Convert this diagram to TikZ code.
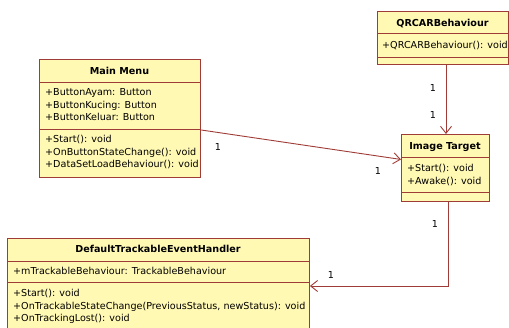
\documentclass[tikz,border=0pt]{standalone}
\usepackage{fontspec}
\setmainfont{DejaVu Sans}
\usetikzlibrary{arrows.meta}
\definecolor{umlfill}{RGB}{255,249,180}
\definecolor{umlline}{RGB}{160,60,55}
\begin{document}
\begin{tikzpicture}[x=1pt,y=-1pt,
  umlbox/.style={draw=umlline, fill=umlfill, line width=0.9pt, inner sep=0pt, anchor=north west},
  sep/.style={draw=umlline, line width=0.9pt},
  member/.style={anchor=base west, inner sep=0pt, font=\fontsize{9.6}{11}\selectfont},
  title/.style={anchor=base, inner sep=0pt, font=\fontsize{9.6}{11}\selectfont\bfseries},
  mult/.style={inner sep=0pt, font=\fontsize{9.6}{11}\selectfont},
  conn/.style={draw=umlline, line width=0.9pt, -{Straight Barb[length=7pt,width=11pt]}}]
\useasboundingbox (0,0) rectangle (509,327);
\clip (0,0) rectangle (509,327);
\fill[white] (0,0) rectangle (509,327);

% Main Menu
\node[umlbox, minimum width=161pt, minimum height=118pt] (mm) at (39,59) {};
\draw[sep] (39,82) -- (200,82);
\draw[sep] (39,129.5) -- (200,129.5);
\node[title] (mmt) at (119.5,74.5) {Main Menu};
\node[member] (mm1) at (45,95.5) {+ButtonAyam: Button};
\node[member] (mm2) at (45,108) {+ButtonKucing: Button};
\node[member] (mm3) at (45,120.5) {+ButtonKeluar: Button};
\node[member] (mm4) at (45,142.5) {+Start(): void};
\node[member] (mm5) at (45,155) {+OnButtonStateChange(): void};
\node[member] (mm6) at (45,167.5) {+DataSetLoadBehaviour(): void};

% QRCARBehaviour
\node[umlbox, minimum width=131pt, minimum height=53pt] (qr) at (377,11) {};
\draw[sep] (377,33) -- (508,33);
\draw[sep] (377,57) -- (508,57);
\node[title] (qrt) at (442.5,26.5) {QRCARBehaviour};
\node[member] (qr1) at (382,48.5) {+QRCARBehaviour(): void};

% Image Target
\node[umlbox, minimum width=88pt, minimum height=67pt] (it) at (401,134) {};
\draw[sep] (401,157) -- (489,157);
\draw[sep] (401,192) -- (489,192);
\node[title] (itt) at (445,149.5) {Image Target};
\node[member] (it1) at (407,171.5) {+Start(): void};
\node[member] (it2) at (407,184.5) {+Awake(): void};

% DefaultTrackableEventHandler
\node[umlbox, minimum width=302pt, minimum height=110pt] (dt) at (7,238) {};
\draw[sep] (7,261) -- (309,261);
\draw[sep] (7,282) -- (309,282);
\node[title] (dtt) at (158,252.5) {DefaultTrackableEventHandler};
\node[member] (dt1) at (13,274.5) {+mTrackableBehaviour: TrackableBehaviour};
\node[member] (dt2) at (13,296.5) {+Start(): void};
\node[member] (dt3) at (13,309) {+OnTrackableStateChange(PreviousStatus, newStatus): void};
\node[member] (dt4) at (13,321.5) {+OnTrackingLost(): void};

% connectors
\draw[conn] ([yshift=-11.5pt]mm.east) -- ([yshift=8.5pt]it.west);
\draw[conn] (qr.south -| 446,0) -- (it.north -| 446,0);
\draw[conn] (it.south -| 448,0) |- (dt.east |- 0,286);

% multiplicities
\node[mult] (l1) at (218,147) {1};
\node[mult] (l2) at (378,171) {1};
\node[mult] (l3) at (433,88) {1};
\node[mult] (l4) at (433,115) {1};
\node[mult] (l5) at (435,224) {1};
\node[mult] (l6) at (331,275) {1};
\end{tikzpicture}
\end{document}
